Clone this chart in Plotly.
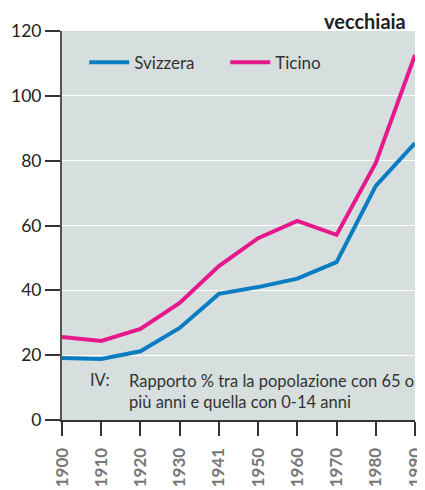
import plotly.graph_objects as go

years = ["1900", "1910", "1920", "1930", "1941", "1950", "1960", "1970", "1980", "1990"]
svizzera = [19.1, 18.8, 21.2, 28.4, 38.9, 41.0, 43.6, 48.7, 72.2, 85.4]
ticino = [25.6, 24.4, 28.1, 36.1, 47.5, 56.1, 61.4, 57.1, 79.3, 112.6]
y_ticks = [0, 20, 40, 60, 80, 100, 120]

font_family = "Lato, 'Open Sans', sans-serif"

fig = go.Figure()
fig.add_trace(go.Scatter(x=years, y=svizzera, mode="lines", name="Svizzera",
                         line=dict(color="#0a7dc2", width=4)))
fig.add_trace(go.Scatter(x=years, y=ticino, mode="lines", name="Ticino",
                         line=dict(color="#e5198b", width=4)))

# page body has an 8px default margin, so the figure is sized to fit 425x490 window
fig.update_layout(
    width=417, height=482,
    margin=dict(l=54, r=10, t=23, b=70, autoexpand=False),
    paper_bgcolor="white",
    plot_bgcolor="#d6dfde",
    font=dict(family=font_family, color="#222", size=16),
    showlegend=True,
    legend=dict(orientation="h", x=0.063, y=0.965, xanchor="left", yanchor="top",
                bgcolor="rgba(0,0,0,0)", font=dict(size=17, color="#333"),
                itemwidth=40, entrywidth=86, entrywidthmode="pixels"),
    xaxis=dict(type="category", range=[0, 9], showgrid=False, automargin=False,
               showline=True, linecolor="#333", linewidth=2,
               ticks="outside", ticklen=14, tickwidth=2, tickcolor="#333",
               ticklabelstandoff=5,
               tickangle=-90, tickfont=dict(size=17, color="#777", family=font_family, weight="bold"),
               zeroline=False),
    yaxis=dict(range=[0, 120], tickvals=y_ticks, showgrid=True, gridcolor="white", gridwidth=1.2,
               showline=True, linecolor="#555", linewidth=2, automargin=False,
               ticks="outside", ticklen=15, tickwidth=2, tickcolor="#333",
               tickfont=dict(size=17.5, color="#222"), zeroline=False),
    annotations=[
        dict(text="<b>vecchiaia</b>", xref="paper", yref="paper", x=0.98, y=1.062,
             xanchor="right", yanchor="top", showarrow=False,
             font=dict(size=20, color="#222")),
        dict(text="IV:", xref="paper", yref="paper", x=0.074, y=0.103,
             xanchor="left", yanchor="middle", showarrow=False,
             font=dict(size=16.5, color="#333")),
        dict(text="Rapporto % tra la popolazione con 65 o<br>più anni e quella con 0-14 anni",
             xref="paper", yref="paper", x=0.185, y=0.073,
             xanchor="left", yanchor="middle", align="left", showarrow=False,
             font=dict(size=16.5, color="#333")),
    ],
)

fig.write_html("out.html")
